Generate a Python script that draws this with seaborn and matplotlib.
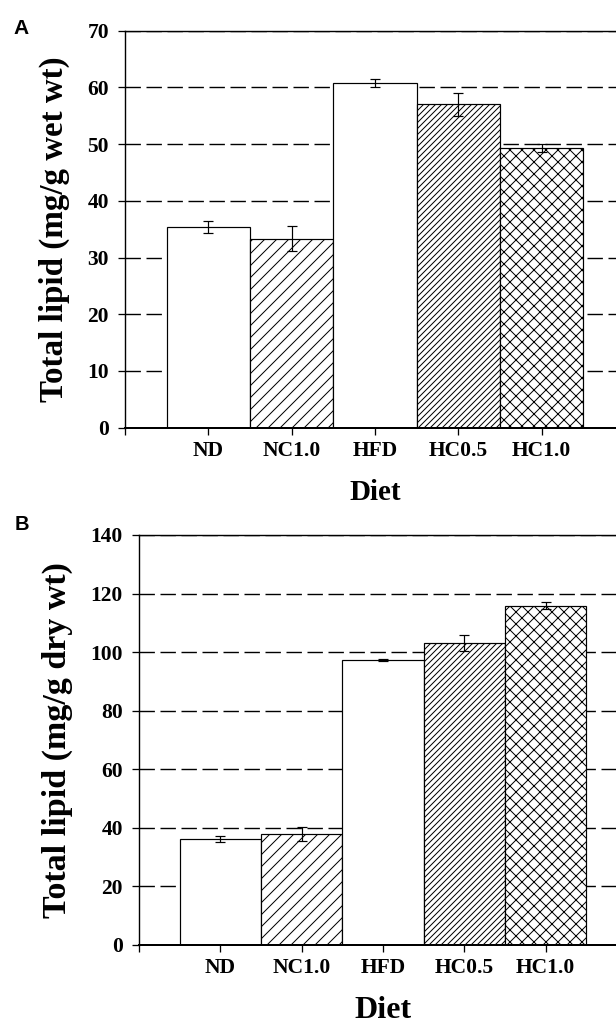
import matplotlib
matplotlib.use('Agg')
import matplotlib.pyplot as plt
import seaborn as sns

# Diet groups and hatch pattern of each bar
diets = ['ND', 'NC1.0', 'HFD', 'HC0.5', 'HC1.0']
hatches = ['', '//', '', '////', 'xx']

# Panel A: total lipid, mg/g wet weight (mean, error)
wet_mean = [35.4, 33.3, 60.8, 57.0, 49.4]
wet_err = [1.1, 2.2, 0.75, 2.0, 0.7]

# Panel B: total lipid, mg/g dry weight (mean, error)
dry_mean = [36.2, 37.9, 97.3, 103.0, 115.8]
dry_err = [1.0, 2.5, 0.4, 2.7, 1.2]

sns.set_style('ticks')
plt.rcParams['font.family'] = ['Liberation Serif', 'DejaVu Serif']
plt.rcParams['font.weight'] = 'bold'
plt.rcParams['text.color'] = 'black'
plt.rcParams['axes.labelcolor'] = 'black'
plt.rcParams['hatch.linewidth'] = 1.0
plt.rcParams['hatch.color'] = 'black'

DPI = 72
W, H = 616, 1024
fig = plt.figure(figsize=(W / DPI, H / DPI), dpi=DPI)

# right edge of both axes falls just outside the canvas, as in the reference
ax_a = fig.add_axes([125 / W, 1 - 427.7 / H, 500 / W, 397 / H])
ax_b = fig.add_axes([139 / W, 1 - 945 / H, 488 / W, 410 / H])


def draw_panel(ax, means, errs, ymax, ystep, ylabel, ylab_x, xlab_y,
               ylab_size, xlab_size):
    sns.barplot(x=diets, y=means, ax=ax, color='white', saturation=1,
                edgecolor='black', linewidth=1.2, width=1.0, errorbar=None)
    for patch, h in zip(ax.patches, hatches):
        patch.set_hatch(h)
    xs = [p.get_x() + p.get_width() / 2 for p in ax.patches]
    ax.errorbar(xs, means, yerr=errs, fmt='none', ecolor='black',
                elinewidth=1.2, capsize=5, capthick=1.2, zorder=3)

    ax.set_xlim(-1, 5)
    ax.set_xticks(range(-1, 6))
    ax.set_xticklabels([''] + diets + [''])
    ax.set_ylim(0, ymax)
    ax.set_yticks(range(0, ymax + 1, ystep))

    ax.set_axisbelow(True)
    ax.yaxis.grid(True, linestyle=(0, (11, 4)), color='black', linewidth=1.4)

    for side in ['left', 'bottom', 'top']:
        ax.spines[side].set_visible(True)
        ax.spines[side].set_color('black')
        ax.spines[side].set_linewidth(1.4)
    ax.spines['bottom'].set_linewidth(2)

    ax.tick_params(axis='both', direction='out', length=7, width=1.3,
                   colors='black', labelsize=21.5)
    ax.tick_params(axis='y', pad=9)
    ax.tick_params(axis='x', pad=6)

    ax.set_ylabel(ylabel, fontsize=ylab_size, fontweight='bold', color='black')
    ax.set_xlabel('Diet', fontsize=xlab_size, fontweight='bold', color='black')
    ax.yaxis.set_label_coords(ylab_x, 0.5)
    ax.xaxis.set_label_coords(0.5, xlab_y)


draw_panel(ax_a, wet_mean, wet_err, 70, 10, 'Total lipid (mg/g wet wt)',
           -0.11, -0.128, 33, 29)
draw_panel(ax_b, dry_mean, dry_err, 140, 20, 'Total lipid (mg/g dry wt)',
           -0.135, -0.124, 34, 32)

fig.text(13 / W, 1 - 19 / H, 'A', family='Liberation Sans', weight='bold',
         size=21, ha='left', va='top', color='black')
fig.text(15 / W, 1 - 515 / H, 'B', family='Liberation Sans', weight='bold',
         size=20, ha='left', va='top', color='black')

fig.savefig('out.png', dpi=DPI, facecolor='white')
